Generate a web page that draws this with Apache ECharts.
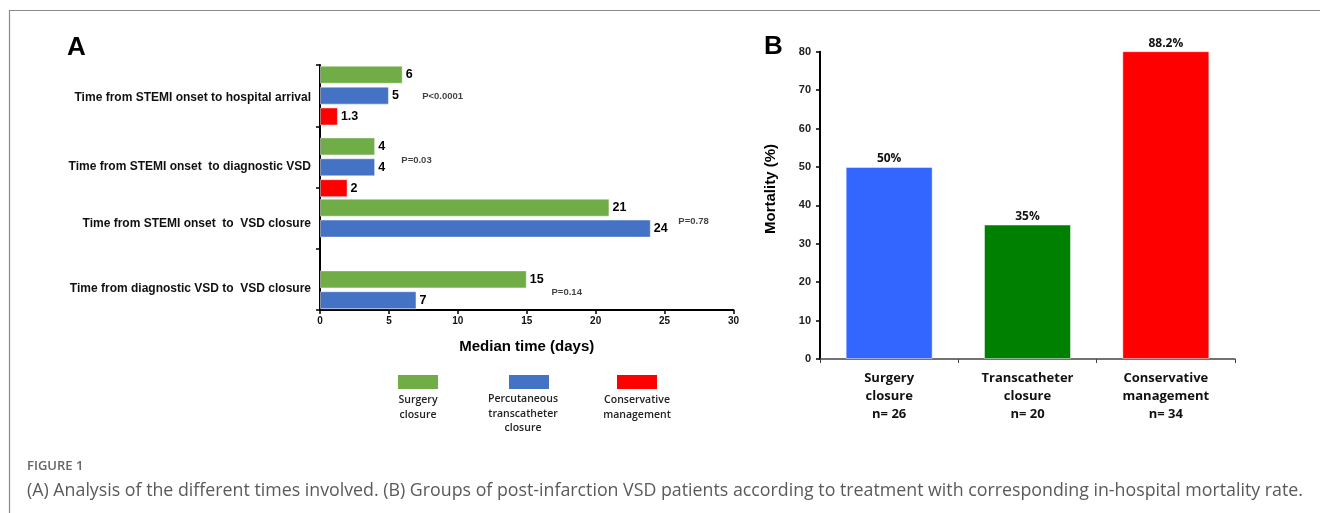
<!DOCTYPE html>
<html><head><meta charset="utf-8">
<script src="https://cdn.jsdelivr.net/npm/echarts@6/dist/echarts.min.js"></script>
<style>html,body{margin:0;padding:0;background:#fff}#c{width:1320px;height:513px}</style>
</head><body><div id="c"></div>
<script>
// ---- Panel A data ----
const timeCategories = [
  'Time from STEMI onset to hospital arrival',
  'Time from STEMI onset  to diagnostic VSD',
  'Time from STEMI onset  to  VSD closure',
  'Time from diagnostic VSD to  VSD closure'
];
const surgeryTimes = [6, 4, 21, 15];
const percutaneousTimes = [5, 4, 24, 7];
const conservativeTimes = [1.3, 2, null, null];
const pValueLabels = ['P<0.0001', 'P=0.03', 'P=0.78', 'P=0.14'];
const pValueX = [8.9, 7.0, 27.1, 17.9];
const legendLabels = ['Surgery\nclosure', 'Percutaneous\ntranscatheter\nclosure', 'Conservative\nmanagement'];

// ---- Panel B data ----
const mortalityGroups = ['Surgery\nclosure\nn= 26', 'Transcatheter\nclosure\nn= 20', 'Conservative\nmanagement\nn= 34'];
const mortalityValues = [50, 35, 88.2];

// ---- styling / layout (not data) ----
const colA = ['#70AD47', '#4472C4', '#FF0000'];
const colB = ['#3366FF', '#008000', '#FF0000'];
const arialB = {fontFamily: 'Liberation Sans, Arial, sans-serif', fontWeight: 'bold', color: '#111'};
const seriesA = [
  {name: 'Surgery closure', data: surgeryTimes, color: colA[0]},
  {name: 'Percutaneous transcatheter closure', data: percutaneousTimes, color: colA[1]},
  {name: 'Conservative management', data: conservativeTimes, color: colA[2]}
];
// each category group is laid out on its own (hidden) category axis so the
// bars sit where the original figure puts them inside each band
const groupSlots = [
  [0, 1, 2],
  [-1, 0, 1, 2],
  [0, 1],
  [-1, 0, 1]
];
const catLabelPad = [4, 20, 12, 18];
const pValueShift = [1, 3, 3, 13];

const chart = echarts.init(document.getElementById('c'), null, {renderer: 'canvas'});

const richCat = {};
catLabelPad.forEach((p, i) => {
  richCat['c' + i] = {padding: [p, 0, 0, 0], fontFamily: arialB.fontFamily, fontWeight: 'bold', fontSize: 12, color: '#111'};
});

const yAxes = [
  {
    type: 'category', gridIndex: 0, inverse: true, data: timeCategories,
    axisLine: {show: true, lineStyle: {color: '#000', width: 2}},
    axisTick: {show: true, length: 4, lineStyle: {color: '#000', width: 1.5}},
    axisLabel: {
      ...arialB, fontSize: 12, margin: 9,
      formatter: (v, i) => '{c' + i + '|' + v + '}',
      rich: richCat
    }
  },
  {
    type: 'value', gridIndex: 1, min: 0, max: 80, interval: 10,
    axisLine: {show: true, lineStyle: {color: '#000', width: 2}},
    axisTick: {show: true, length: 4, lineStyle: {color: '#000', width: 1.5}},
    axisLabel: {...arialB, fontSize: 11, margin: 9, color: '#222'},
    splitLine: {show: false}
  }
];

const series = [];
groupSlots.forEach((slots, ci) => {
  const axisIdx = yAxes.length;
  yAxes.push({type: 'category', gridIndex: 0, inverse: true, data: timeCategories, show: false});
  slots.forEach(si => {
    const src = si >= 0 ? seriesA[si] : null;
    series.push({
      type: 'bar', name: src ? src.name : '', xAxisIndex: 0, yAxisIndex: axisIdx,
      data: timeCategories.map((_, k) => (src && k === ci) ? src.data[k] : null),
      barWidth: 18, barGap: '16%',
      itemStyle: {color: src ? src.color : 'transparent', borderColor: 'rgba(255,255,255,0.45)', borderWidth: 1},
      label: {show: true, position: 'right', distance: 3, ...arialB, fontSize: 12.5, color: '#000'},
      emphasis: {disabled: true}, silent: true
    });
  });
});

series.push({
  type: 'scatter', xAxisIndex: 0, yAxisIndex: 0, symbolSize: 0, silent: true,
  data: pValueLabels.map((t, i) => ({value: [pValueX[i], i], name: t, label: {offset: [0, pValueShift[i]]}})),
  label: {show: true, position: 'inside', formatter: p => p.name, ...arialB, fontSize: 9.5, color: '#111'}
});
series.push({
  type: 'bar', xAxisIndex: 1, yAxisIndex: 1, barWidth: 87, clip: true,
  data: mortalityValues.map((v, i) => ({value: v, itemStyle: {color: colB[i]}})),
  itemStyle: {borderColor: 'rgba(255,255,255,0.45)', borderWidth: 1},
  label: {show: true, position: 'top', distance: 2, formatter: '{c}%', fontFamily: 'Open Sans, sans-serif', fontWeight: 'bold', fontSize: 12, color: '#111'},
  emphasis: {disabled: true}
});

const option = {
  animation: false,
  grid: [
    {left: 320, top: 65, width: 413.5, height: 245},
    {left: 820, top: 51.7, width: 415, height: 307.3}
  ],
  xAxis: [
    {
      type: 'value', gridIndex: 0, min: 0, max: 30, interval: 5,
      axisLine: {show: true, lineStyle: {color: '#000', width: 2}},
      axisTick: {show: true, length: 4, lineStyle: {color: '#000', width: 1.5}},
      axisLabel: {...arialB, fontSize: 10, margin: 6},
      splitLine: {show: false},
      name: 'Median time (days)', nameLocation: 'middle', nameGap: 29,
      nameTextStyle: {...arialB, fontSize: 15, color: '#000'}
    },
    {
      type: 'category', gridIndex: 1, data: mortalityGroups,
      axisLine: {show: true, lineStyle: {color: '#444', width: 1.5}},
      axisTick: {show: true, length: 4, alignWithLabel: false, lineStyle: {color: '#444', width: 1}},
      axisLabel: {fontFamily: 'Open Sans, sans-serif', fontWeight: 'bold', fontSize: 13, lineHeight: 18, color: '#111', margin: 10, interval: 0}
    }
  ],
  yAxis: yAxes,
  series,
  graphic: [
    {type: 'line', shape: {x1: 9, y1: 10.5, x2: 1320, y2: 10.5}, style: {stroke: '#8a8a8a', lineWidth: 1.2}},
    {type: 'line', shape: {x1: 9.5, y1: 10, x2: 9.5, y2: 513}, style: {stroke: '#8a8a8a', lineWidth: 1.2}},
    {type: 'text', x: 67, y: 48, style: {text: 'A', font: 'bold 26px "Liberation Sans", Arial', fill: '#000', verticalAlign: 'middle'}},
    {type: 'text', x: 764, y: 47, style: {text: 'B', font: 'bold 26px "Liberation Sans", Arial', fill: '#000', verticalAlign: 'middle'}},
    {type: 'text', x: 771, y: 189, rotation: Math.PI / 2, style: {text: 'Mortality (%)', font: 'bold 15px "Liberation Sans", Arial', fill: '#000', align: 'center', verticalAlign: 'middle'}},
    {type: 'rect', shape: {x: 398, y: 375, width: 40, height: 14}, style: {fill: colA[0]}},
    {type: 'rect', shape: {x: 509, y: 375, width: 40, height: 14}, style: {fill: colA[1]}},
    {type: 'rect', shape: {x: 617, y: 375, width: 40, height: 14}, style: {fill: colA[2]}},
    {type: 'text', x: 418, y: 393, style: {text: legendLabels[0], font: '600 10.5px "Open Sans"', fill: '#222', align: 'center', lineHeight: 14.5}},
    {type: 'text', x: 523, y: 392, style: {text: legendLabels[1], font: '600 10.5px "Open Sans"', fill: '#222', align: 'center', lineHeight: 14.5}},
    {type: 'text', x: 637, y: 393, style: {text: legendLabels[2], font: '600 10.5px "Open Sans"', fill: '#222', align: 'center', lineHeight: 14.5}},
    {type: 'text', x: 27, y: 466, style: {text: 'FIGURE 1', font: '600 13px "Open Sans"', fill: '#666', verticalAlign: 'middle'}},
    {type: 'text', x: 27, y: 491, style: {text: '(A) Analysis of the different times involved. (B) Groups of post-infarction VSD patients according to treatment with corresponding in-hospital mortality rate.', font: '17.8px "Open Sans"', fill: '#5a5a5a', verticalAlign: 'middle'}}
  ]
};
chart.setOption(option);
</script>
</body></html>
